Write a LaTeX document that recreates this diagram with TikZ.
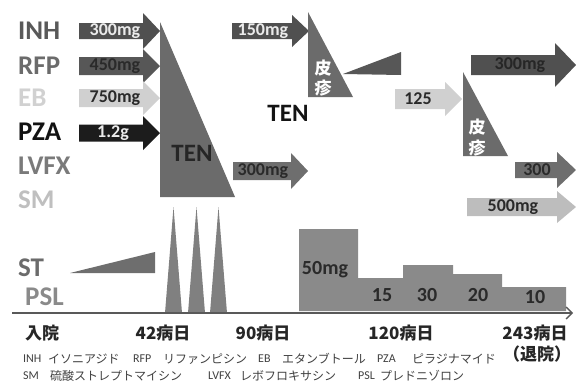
\documentclass[tikz,border=0pt]{standalone}
\usepackage{fontspec}
\setmainfont{Carlito}
\newfontfamily\jp{Noto Sans CJK JP}
\usetikzlibrary{arrows.meta}
\definecolor{cInh}{HTML}{505050}
\definecolor{cRfp}{HTML}{575757}
\definecolor{cEb}{HTML}{D0D0D0}
\definecolor{cPza}{HTML}{1C1C1C}
\definecolor{cLv}{HTML}{6E6E6E}
\definecolor{cSm}{HTML}{BDBDBD}
\definecolor{cTri}{HTML}{6B6B6B}
\definecolor{cSpike}{HTML}{808080}
\definecolor{cPsl}{HTML}{8A8A8A}
\definecolor{cTxt}{HTML}{2A2A2A}
\newcommand\blkarrow[7]{%
  \fill[#7] (#1,#4-#5) -- (#2,#4-#5) -- (#2,#4-#6) -- (#3,#4) -- (#2,#4+#6) -- (#2,#4+#5) -- (#1,#4+#5) -- cycle;}
\tikzset{
  drug/.style={anchor=west, inner sep=0pt, font=\fontsize{27}{27}\selectfont\bfseries},
  dose/.style={inner sep=0pt, font=\fontsize{18}{18}\selectfont\bfseries},
  big/.style={inner sep=0pt, font=\fontsize{25}{25}\selectfont\bfseries},
  rash/.style={inner sep=0pt, text=white, font=\fontsize{17}{17}\selectfont\jp\bfseries},
  pslv/.style={inner sep=0pt, text=cTxt, font=\fontsize{20}{20}\selectfont\bfseries},
  day/.style={inner sep=0pt, text=black!85, font=\fontsize{17}{17}\selectfont\jp\bfseries},
  lat/.style={anchor=west, inner sep=0pt, text=black!75, font=\fontsize{12}{12}\selectfont},
  kana/.style={anchor=west, inner sep=0pt, text=black!75, font=\fontsize{12}{12}\selectfont\jp},
}
\begin{document}
\begin{tikzpicture}[x=1pt, y=-1pt]
\useasboundingbox (0,0) rectangle (576,383);
% drug labels
\node[drug, text=black!65] (lInh) at (18,31) {INH};
\node[drug, text=black!58] (lRfp) at (18,66) {RFP};
\node[drug, text=black!18] (lEb) at (18,98) {EB};
\node[drug, text=black!93] (lPza) at (18,132) {PZA};
\node[drug, text=black!52] (lLv) at (18,166) {LVFX};
\node[drug, text=black!25] (lSm) at (18,200) {SM};
\node[drug, text=black!58] (lSt) at (18,268) {ST};
\node[drug, text=black!46] (lPsl) at (25,297) {PSL};
% arrows first phase
\blkarrow{79}{143}{160}{31}{8}{18}{cInh}
\blkarrow{79}{143}{160}{66}{9}{17}{cRfp}
\blkarrow{79}{143}{160}{98}{9}{17}{cEb}
\blkarrow{79}{143}{160}{133}{8.5}{17}{cPza}
\node[dose, text=white!92!black] (d1) at (115,31) {300mg};
\node[dose, text=cTxt] (d2) at (115,66) {450mg};
\node[dose, text=cTxt] (d3) at (115,98) {750mg};
\node[dose, text=white!92!black] (d4) at (113,133) {1.2g};
% big TEN triangle
\fill[cTri] (160,22) -- (160,197) -- (235,197) -- cycle;
\node[big, text=black!85] (ten1) at (192,153) {TEN};
% second phase
\blkarrow{232}{292}{309}{31}{8}{16}{cInh}
\node[dose, text=white!92!black] (d5) at (263,31) {150mg};
\blkarrow{233}{291}{308}{171}{9}{18}{cLv}
\node[dose, text=cTxt] (d6) at (263,171) {300mg};
\fill[cTri] (308,12) -- (308,97) -- (353,97) -- cycle;
\node[rash] (r1a) at (323,68) {皮};
\node[rash] (r1b) at (323,88) {疹};
\fill[cRfp] (343,74) -- (401,52) -- (401,75) -- cycle;
\node[big, text=black!92] (ten2) at (288,113) {TEN};
% third phase
\blkarrow{395}{445}{462}{99}{10}{17}{cEb}
\node[dose, text=cTxt] (d7) at (418,99) {125};
\fill[cTri] (463,72) -- (463,156) -- (508,156) -- cycle;
\node[rash] (r2a) at (477,127) {皮};
\node[rash] (r2b) at (477,148) {疹};
\blkarrow{471}{555}{576}{65}{10}{22}{cInh}
\node[dose, text=black!85] (d8) at (520,65) {300mg};
\blkarrow{515}{557}{576}{170}{8}{18}{cLv}
\node[dose, text=cTxt] (d9) at (537,170) {300};
\blkarrow{467}{557}{576}{207}{9}{16}{cSm}
\node[dose, text=cTxt] (d10) at (513,207) {500mg};
% ST wedge and spikes
\fill[cLv] (70,273) -- (155,252) -- (155,273) -- cycle;
\fill[cSpike] (165,313) -- (173.5,207) -- (182,313) -- cycle;
\fill[cSpike] (188,313) -- (196.5,207) -- (205,313) -- cycle;
\fill[cSpike] (210,313) -- (218.5,207) -- (227,313) -- cycle;
% PSL steps
\fill[cPsl] (299,311) -- (299,229) -- (358,229) -- (358,278) -- (403,278) -- (403,265)
  -- (453,265) -- (453,274) -- (502,274) -- (502,287) -- (566,287) -- (566,311) -- cycle;
\node[pslv] (p1) at (325,270) {50mg};
\node[pslv] (p2) at (382,295) {15};
\node[pslv] (p3) at (427,295) {30};
\node[pslv] (p4) at (478,295) {20};
\node[pslv] (p5) at (535,297) {10};
% axis
\coordinate (ax0) at (12,313);
\coordinate (ax1) at (573,313);
\draw[black!65, line width=2pt, -{Straight Barb[length=6pt,width=12pt,line width=1.3pt]}] (ax0) -- (ax1);
\node[day] (t0) at (42,333) {入院};
\node[day] (t1) at (163,333) {42病日};
\node[day] (t2) at (263,333) {90病日};
\node[day] (t3) at (401,333) {120病日};
\node[day] (t4) at (535,333) {243病日};
\node[day] (t5) at (537,354) {（退院）};
% legend
\node[lat] (g1) at (23,359) {INH};
\node[kana] (g2) at (48,359) {イソニアジド};
\node[lat] (g3) at (133,359) {RFP};
\node[kana] (g4) at (163,359) {リファンピシン};
\node[lat] (g5) at (258,359) {EB};
\node[kana] (g6) at (282,359) {エタンブトール};
\node[lat] (g7) at (377,359) {PZA};
\node[kana] (g8) at (412,359) {ピラジナマイド};
\node[lat] (h1) at (23,376) {SM};
\node[kana] (h2) at (50,376) {硫酸ストレプトマイシン};
\node[lat] (h3) at (208,376) {LVFX};
\node[kana] (h4) at (240,376) {レボフロキサシン};
\node[lat] (h5) at (358,376) {PSL};
\node[kana] (h6) at (380,376) {プレドニゾロン};
\end{tikzpicture}
\end{document}
